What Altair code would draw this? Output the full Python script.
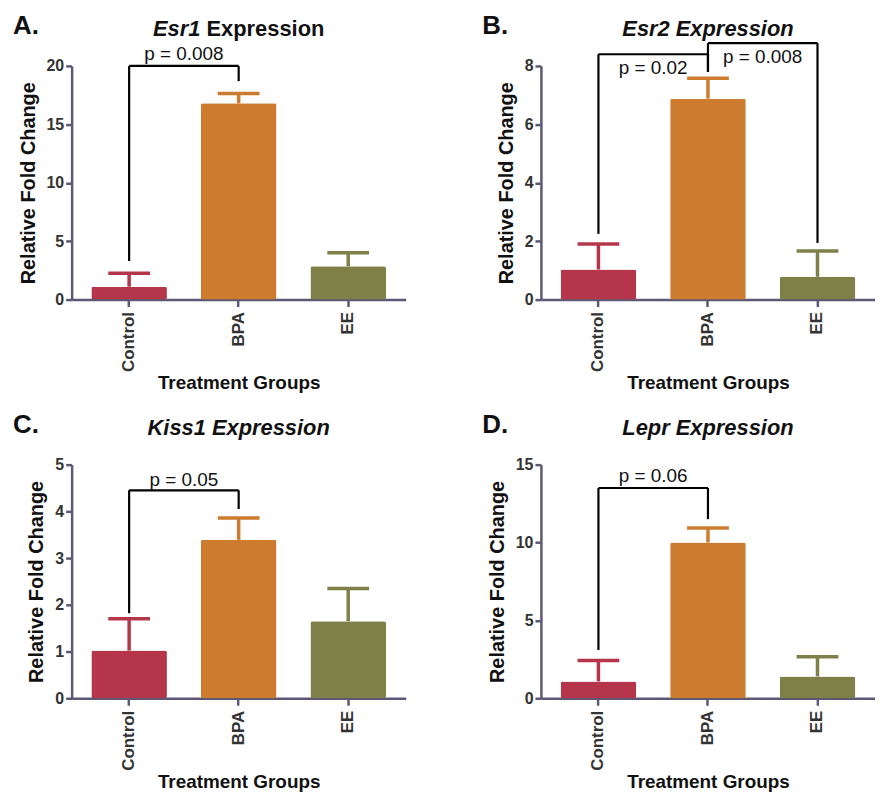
import altair as alt
import pandas as pd

# ---------------- data ----------------
GROUPS = ["Control", "BPA", "EE"]
BAR_COLORS = ["#B5364B", "#CD7B2F", "#7F8048"]

PANEL_LETTERS = ["A.", "B.", "C.", "D."]
GENE_NAMES = ["Esr1", "Esr2", "Kiss1", "Lepr"]

ESR1_MEAN = [1.1, 16.8, 2.85]
ESR1_SEM = [1.15, 0.85, 1.15]
ESR2_MEAN = [1.03, 6.88, 0.78]
ESR2_SEM = [0.87, 0.70, 0.88]
KISS1_MEAN = [1.02, 3.39, 1.65]
KISS1_SEM = [0.68, 0.47, 0.70]
LEPR_MEAN = [1.08, 10.0, 1.40]
LEPR_SEM = [1.34, 0.93, 1.27]

Y_MAX = [20, 8, 5, 15]
Y_TICKS = [[0, 5, 10, 15, 20], [0, 2, 4, 6, 8], [0, 1, 2, 3, 4, 5], [0, 5, 10, 15]]

# significance brackets: left group, right group, bracket top, left foot, right foot, label, label height
ESR1_BRACKETS = [("Control", "BPA", 20.0, 3.3, 18.7, "p = 0.008", 21.0)]
ESR2_BRACKETS = [("Control", "BPA", 8.4, 2.25, 7.8, "p = 0.02", 7.93),
                 ("BPA", "EE", 8.78, 7.8, 1.94, "p = 0.008", 8.3)]
KISS1_BRACKETS = [("Control", "BPA", 4.45, 1.82, 4.05, "p = 0.05", 4.68)]
LEPR_BRACKETS = [("Control", "BPA", 13.5, 3.1, 11.5, "p = 0.06", 14.3)]

MEANS = [ESR1_MEAN, ESR2_MEAN, KISS1_MEAN, LEPR_MEAN]
SEMS = [ESR1_SEM, ESR2_SEM, KISS1_SEM, LEPR_SEM]
BRACKETS = [ESR1_BRACKETS, ESR2_BRACKETS, KISS1_BRACKETS, LEPR_BRACKETS]

# ---------------- style ----------------
FONT = "Liberation Sans"
W, H = 336, 235
P_INNER, P_OUTER = 0.31, 0.18
STEP = W / (3 - P_INNER + 2 * P_OUTER)
AXIS_COLOR = "#5C5875"


def panel(k):
    means, sems = MEANS[k], SEMS[k]
    df = pd.DataFrame({
        "group": GROUPS,
        "mean": means,
        "top": [m + s for m, s in zip(means, sems)],
    })
    xs = alt.Scale(domain=GROUPS, paddingInner=P_INNER, paddingOuter=P_OUTER)
    ys = alt.Scale(domain=[0, Y_MAX[k]], nice=False, zero=True)
    cs = alt.Scale(domain=GROUPS, range=BAR_COLORS)

    x_axis = alt.Axis(title="Treatment Groups", labelAngle=-90, labelFontSize=17,
                      labelFontWeight="bold", labelColor="#333333", labelPadding=5,
                      tickSize=7, titleFontSize=19, titleFontWeight="bold",
                      titleColor="#111111", titlePadding=2)
    y_axis = alt.Axis(title="Relative Fold Change", values=Y_TICKS[k], labelFontSize=16,
                      labelFontWeight="bold", labelColor="#333333", labelPadding=2,
                      tickSize=6, titleFontSize=20, titleFontWeight="bold",
                      titleColor="#111111", titlePadding=8, grid=False)

    base = alt.Chart(df)
    bars = base.mark_bar(cornerRadius=2).encode(
        x=alt.X("group:N", scale=xs, axis=x_axis, sort=GROUPS),
        y=alt.Y("mean:Q", scale=ys, axis=y_axis),
        color=alt.Color("group:N", scale=cs, legend=None),
    )
    stem = base.mark_rule(strokeWidth=3.5).encode(
        x=alt.X("group:N", sort=GROUPS),
        y=alt.Y("mean:Q"),
        y2="top:Q",
        color=alt.Color("group:N", scale=cs, legend=None),
    )
    cap = base.mark_tick(orient="horizontal", size=42, thickness=3.5, opacity=1).encode(
        x=alt.X("group:N", sort=GROUPS),
        y=alt.Y("top:Q"),
        color=alt.Color("group:N", scale=cs, legend=None),
    )

    br = BRACKETS[k]
    hdf = pd.DataFrame({"left": [b[0] for b in br], "right": [b[1] for b in br],
                        "ytop": [b[2] for b in br]})
    vdf = pd.DataFrame({
        "g": [b[0] for b in br] + [b[1] for b in br],
        "foot": [b[3] for b in br] + [b[4] for b in br],
        "ytop": [b[2] for b in br] * 2,
    })
    tdf = pd.DataFrame({"left": [b[0] for b in br], "label": [b[5] for b in br],
                        "ly": [b[6] for b in br]})

    hline = alt.Chart(hdf).mark_rule(color="black", strokeWidth=2.2).encode(
        x=alt.X("left:N", sort=GROUPS, bandPosition=0.5),
        x2="right:N",
        y=alt.Y("ytop:Q"),
    )
    vline = alt.Chart(vdf).mark_rule(color="black", strokeWidth=2.2).encode(
        x=alt.X("g:N", sort=GROUPS),
        y=alt.Y("foot:Q"),
        y2="ytop:Q",
    )
    ptext = alt.Chart(tdf).mark_text(font=FONT, fontSize=19, color="#111111",
                                     dx=STEP / 2, baseline="middle").encode(
        x=alt.X("left:N", sort=GROUPS),
        y=alt.Y("ly:Q"),
        text="label:N",
    )

    letter = alt.Chart(pd.DataFrame({"t": [PANEL_LETTERS[k]]})).mark_text(
        font=FONT, fontSize=26, fontWeight="bold", align="left", baseline="middle",
        color="#111111").encode(x=alt.value(-59), y=alt.value(-40), text="t:N")

    layers = [bars, stem, cap, hline, vline, ptext, letter]
    gene = GENE_NAMES[k]
    if k == 0:
        fs = 22
        w1 = 2.168 * fs
        w2 = 5.669 * fs
        half = (w1 + w2) / 2
        t1 = alt.Chart(pd.DataFrame({"t": [gene]})).mark_text(
            font=FONT, fontSize=fs, fontWeight="bold", fontStyle="italic", align="left",
            baseline="middle", color="#111111").encode(
            x=alt.value(W / 2 - half), y=alt.value(-37), text="t:N")
        t2 = alt.Chart(pd.DataFrame({"t": ["Expression"]})).mark_text(
            font=FONT, fontSize=fs, fontWeight="bold", align="right",
            baseline="middle", color="#111111").encode(
            x=alt.value(W / 2 + half), y=alt.value(-37), text="t:N")
        layers += [t1, t2]
    else:
        t = alt.Chart(pd.DataFrame({"t": [gene + " Expression"]})).mark_text(
            font=FONT, fontSize=22, fontWeight="bold", fontStyle="italic",
            align="center", baseline="middle", color="#111111").encode(
            x=alt.value(W / 2), y=alt.value(-37), text="t:N")
        layers.append(t)

    return alt.layer(*layers).properties(width=W, height=H)


row1 = alt.hconcat(panel(0), panel(1), spacing=77)
row2 = alt.hconcat(panel(2), panel(3), spacing=77)
chart = alt.vconcat(row1, row2, spacing=19).configure_view(stroke=None).configure_axis(
    domainColor=AXIS_COLOR, domainWidth=2.5, tickColor=AXIS_COLOR, tickWidth=2.5,
    labelFont=FONT, titleFont=FONT,
).properties(background="white",
             padding={"left": 5, "top": 3, "right": 0, "bottom": 0})

chart.save("out.html", embed_options={"renderer": "svg", "actions": False})
